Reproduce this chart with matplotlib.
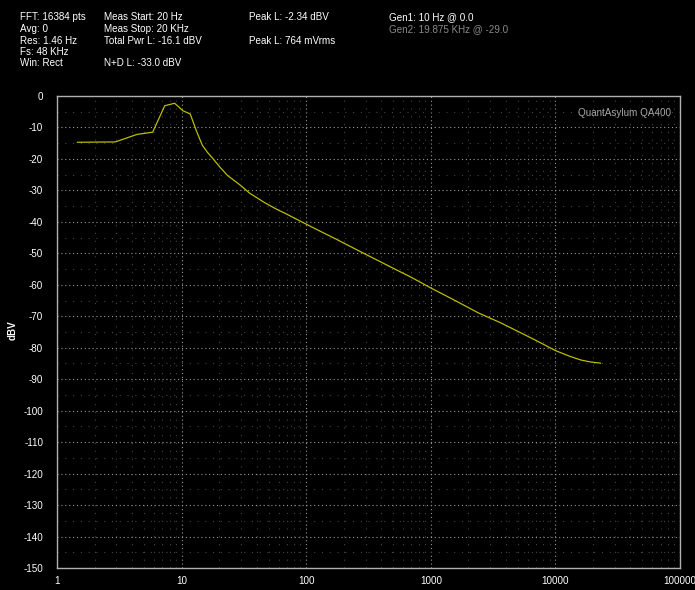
import numpy as np
import matplotlib.pyplot as plt
from matplotlib.ticker import FixedLocator, NullFormatter

# spectrum (Hz, dBV)
freqs = [1.46, 2.93, 4.39, 5.86, 7.32, 8.79, 10.25, 11.72, 13.18, 14.65,
         16.11, 17.58, 20.51, 23.44, 29.3, 35.2, 46.9, 58.6, 70.3, 87.9,
         117, 176, 293, 469, 703, 1000, 1500, 2400, 3600, 5000,
         7000, 10000, 13000, 16000, 19000, 22000, 23000]
dbv = [-14.7, -14.6, -12.2, -11.5, -3.1, -2.3, -4.7, -5.7, -11.2, -15.6,
       -17.9, -19.6, -22.8, -25.3, -28.2, -30.9, -34.0, -36.1, -37.6, -39.6,
       -42.1, -45.6, -50.1, -54.2, -57.7, -61.0, -64.6, -68.9, -72.0, -74.8,
       -77.7, -80.9, -82.7, -83.9, -84.5, -84.8, -84.9]

x_ticks = [1, 10, 100, 1000, 10000, 100000]
y_ticks = list(range(0, -151, -10))

header = [
    (20, ["FFT: 16384 pts", "Avg: 0", "Res: 1.46 Hz", "Fs: 48 KHz", "Win: Rect"], 'white'),
    (104, ["Meas Start: 20 Hz", "Meas Stop: 20 KHz", "Total Pwr L: -16.1 dBV", "", "N+D L: -33.0 dBV"], 'white'),
    (249, ["Peak L: -2.34 dBV", "", "Peak L: 764 mVrms", "", ""], 'white'),
]

plt.rcParams['font.family'] = ['Liberation Sans', 'DejaVu Sans']
plt.rcParams['axes.unicode_minus'] = False
W, H = 695, 590
fig = plt.figure(figsize=(W / 100, H / 100), dpi=100, facecolor='black')
ax = fig.add_axes([57 / W, 1 - 568 / H, (680 - 57) / W, (568 - 96) / H])
ax.set_facecolor('black')

ax.semilogx(freqs, dbv, color='#bcbc00', lw=0.9)
ax.set_xlim(1, 100000)
ax.set_ylim(-150, 0)

ax.xaxis.set_major_locator(FixedLocator(x_ticks))
ax.set_xticklabels([str(t) for t in x_ticks])
minor_x = [m * 10 ** d for d in range(5) for m in range(2, 10)]
ax.xaxis.set_minor_locator(FixedLocator(minor_x))
ax.xaxis.set_minor_formatter(NullFormatter())
ax.set_yticks(y_ticks)
ax.set_yticks(list(range(-5, -150, -10)), minor=True)

ax.grid(True, which='major', color='#9a9a9a', ls=(0, (1, 2.5)), lw=0.8)
ax.grid(True, which='minor', color='#444444', ls=(0, (1, 6)), lw=0.8)
ax.tick_params(which='both', length=0, colors='white', labelsize=7.1)
ax.tick_params(axis='y', pad=10)
ax.tick_params(axis='x', pad=6)
for s in ax.spines.values():
    s.set_color('#b0b0b0')
    s.set_linewidth(1.0)

ax.set_ylabel('dBV', color='white', fontsize=7.1, fontweight='bold')
ax.yaxis.set_label_coords(-0.064, 0.504)
ax.text(0.985, 0.975, 'QuantAsylum QA400', transform=ax.transAxes, ha='right',
        va='top', color='#a8a8a8', fontsize=7.1)

line_y = [17, 29, 41, 52, 63]
for x0, lines, col in header:
    for ly, t in zip(line_y, lines):
        if t:
            fig.text(x0 / W, 1 - ly / H, t, color=col, fontsize=7.1, va='center')
fig.text(389 / W, 1 - 17 / H, "Gen1: 10 Hz @ 0.0", color='white', fontsize=7.1, va='center')
fig.text(389 / W, 1 - 29 / H, "Gen2: 19.875 KHz @ -29.0", color='#8a8a8a', fontsize=7.1, va='center')

fig.savefig('out.png', dpi=100, facecolor='black')
